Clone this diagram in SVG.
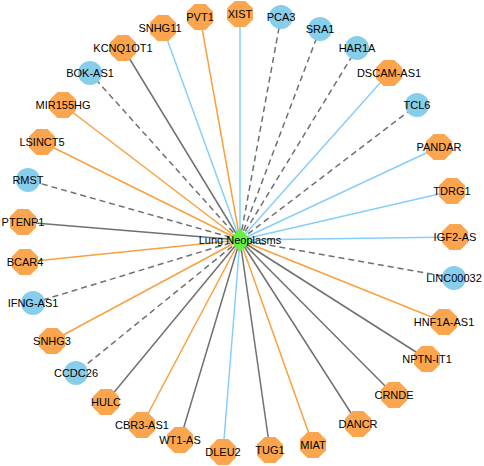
<svg xmlns="http://www.w3.org/2000/svg" xmlns:xlink="http://www.w3.org/1999/xlink" width="484" height="466" viewBox="0 0 484 466">
<style>
.e{fill:none;stroke-width:1.5}
.o{stroke:#F9A03F}
.g{stroke:#707070}
.b{stroke:#87CEFA}
.d{stroke:#707070;stroke-dasharray:6,4}
.oct{fill:#FBA64F}
.cir{fill:#87CEEB}
text{font-family:"Liberation Sans",Arial,sans-serif;font-size:11px;fill:#000;text-anchor:middle}
</style>
<defs>
<polygon id="oct" points="-5.4,-13 5.4,-13 13,-5.4 13,5.4 5.4,13 -5.4,13 -13,5.4 -13,-5.4"/>
</defs>
<rect width="484" height="466" fill="#fff"/>
<g id="connectors">
<line class="e b" x1="240" y1="240" x2="240" y2="14"/>
<line class="e d" x1="240" y1="240" x2="281" y2="17"/>
<line class="e d" x1="240" y1="240" x2="320" y2="29"/>
<line class="e d" x1="240" y1="240" x2="357" y2="48"/>
<line class="e b" x1="240" y1="240" x2="389" y2="73"/>
<line class="e d" x1="240" y1="240" x2="417" y2="105"/>
<line class="e b" x1="240" y1="240" x2="439" y2="147"/>
<line class="e b" x1="240" y1="240" x2="452" y2="191"/>
<line class="e b" x1="240" y1="240" x2="455" y2="237"/>
<line class="e d" x1="240" y1="240" x2="454" y2="278"/>
<line class="e o" x1="240" y1="240" x2="444" y2="322"/>
<line class="e g" x1="240" y1="240" x2="427" y2="359"/>
<line class="e g" x1="240" y1="240" x2="394" y2="395"/>
<line class="e g" x1="240" y1="240" x2="358" y2="424"/>
<line class="e o" x1="240" y1="240" x2="313" y2="445"/>
<line class="e g" x1="240" y1="240" x2="270" y2="450"/>
<line class="e b" x1="240" y1="240" x2="223" y2="452"/>
<line class="e g" x1="240" y1="240" x2="180" y2="440"/>
<line class="e o" x1="240" y1="240" x2="142" y2="425"/>
<line class="e g" x1="240" y1="240" x2="106" y2="402"/>
<line class="e d" x1="240" y1="240" x2="76" y2="373"/>
<line class="e o" x1="240" y1="240" x2="52" y2="341"/>
<line class="e d" x1="240" y1="240" x2="33" y2="303"/>
<line class="e o" x1="240" y1="240" x2="25" y2="262"/>
<line class="e g" x1="240" y1="240" x2="23" y2="222"/>
<line class="e d" x1="240" y1="240" x2="28" y2="180"/>
<line class="e o" x1="240" y1="240" x2="42" y2="142"/>
<line class="e o" x1="240" y1="240" x2="63" y2="105"/>
<line class="e d" x1="240" y1="240" x2="90" y2="73"/>
<line class="e g" x1="240" y1="240" x2="123" y2="48"/>
<line class="e b" x1="240" y1="240" x2="163" y2="28"/>
<line class="e o" x1="240" y1="240" x2="200" y2="17"/>
</g>
<g id="XIST"><use href="#oct" class="oct" x="240" y="14"/><text x="240" y="18">XIST</text></g>
<g id="PCA3"><circle class="cir" cx="281" cy="17" r="12"/><text x="281" y="21">PCA3</text></g>
<g id="SRA1"><circle class="cir" cx="320" cy="29" r="12"/><text x="320" y="33">SRA1</text></g>
<g id="HAR1A"><circle class="cir" cx="357" cy="48" r="12"/><text x="357" y="52">HAR1A</text></g>
<g id="DSCAM-AS1"><use href="#oct" class="oct" x="389" y="73"/><text x="389" y="77">DSCAM-AS1</text></g>
<g id="TCL6"><circle class="cir" cx="417" cy="105" r="12"/><text x="417" y="109">TCL6</text></g>
<g id="PANDAR"><use href="#oct" class="oct" x="439" y="147"/><text x="439" y="151">PANDAR</text></g>
<g id="TDRG1"><use href="#oct" class="oct" x="452" y="191"/><text x="452" y="195">TDRG1</text></g>
<g id="IGF2-AS"><use href="#oct" class="oct" x="455" y="237"/><text x="455" y="241">IGF2-AS</text></g>
<g id="LINC00032"><circle class="cir" cx="454" cy="278" r="12"/><text x="454" y="282">LINC00032</text></g>
<g id="HNF1A-AS1"><use href="#oct" class="oct" x="444" y="322"/><text x="444" y="326">HNF1A-AS1</text></g>
<g id="NPTN-IT1"><use href="#oct" class="oct" x="427" y="359"/><text x="427" y="363">NPTN-IT1</text></g>
<g id="CRNDE"><use href="#oct" class="oct" x="394" y="395"/><text x="394" y="399">CRNDE</text></g>
<g id="DANCR"><use href="#oct" class="oct" x="358" y="424"/><text x="358" y="428">DANCR</text></g>
<g id="MIAT"><use href="#oct" class="oct" x="313" y="445"/><text x="313" y="449">MIAT</text></g>
<g id="TUG1"><use href="#oct" class="oct" x="270" y="450"/><text x="270" y="454">TUG1</text></g>
<g id="DLEU2"><use href="#oct" class="oct" x="223" y="452"/><text x="223" y="456">DLEU2</text></g>
<g id="WT1-AS"><use href="#oct" class="oct" x="180" y="440"/><text x="180" y="444">WT1-AS</text></g>
<g id="CBR3-AS1"><use href="#oct" class="oct" x="142" y="425"/><text x="142" y="429">CBR3-AS1</text></g>
<g id="HULC"><use href="#oct" class="oct" x="106" y="402"/><text x="106" y="406">HULC</text></g>
<g id="CCDC26"><circle class="cir" cx="76" cy="373" r="12"/><text x="76" y="377">CCDC26</text></g>
<g id="SNHG3"><use href="#oct" class="oct" x="52" y="341"/><text x="52" y="345">SNHG3</text></g>
<g id="IFNG-AS1"><circle class="cir" cx="33" cy="303" r="12"/><text x="33" y="307">IFNG-AS1</text></g>
<g id="BCAR4"><use href="#oct" class="oct" x="25" y="262"/><text x="25" y="266">BCAR4</text></g>
<g id="PTENP1"><use href="#oct" class="oct" x="23" y="222"/><text x="23" y="226">PTENP1</text></g>
<g id="RMST"><circle class="cir" cx="28" cy="180" r="12"/><text x="28" y="184">RMST</text></g>
<g id="LSINCT5"><use href="#oct" class="oct" x="42" y="142"/><text x="42" y="146">LSINCT5</text></g>
<g id="MIR155HG"><use href="#oct" class="oct" x="63" y="105"/><text x="63" y="109">MIR155HG</text></g>
<g id="BOK-AS1"><circle class="cir" cx="90" cy="73" r="12"/><text x="90" y="77">BOK-AS1</text></g>
<g id="KCNQ1OT1"><use href="#oct" class="oct" x="123" y="48"/><text x="123" y="52">KCNQ1OT1</text></g>
<g id="SNHG11"><use href="#oct" class="oct" x="163" y="28"/><text x="160" y="32">SNHG11</text></g>
<g id="PVT1"><use href="#oct" class="oct" x="200" y="17"/><text x="200" y="21">PVT1</text></g>
<g id="Lung-Neoplasms"><polygon points="240,228 251,240 240,252 229,240" fill="#66F044"/><text x="240" y="244">Lung Neoplasms</text></g>
</svg>
